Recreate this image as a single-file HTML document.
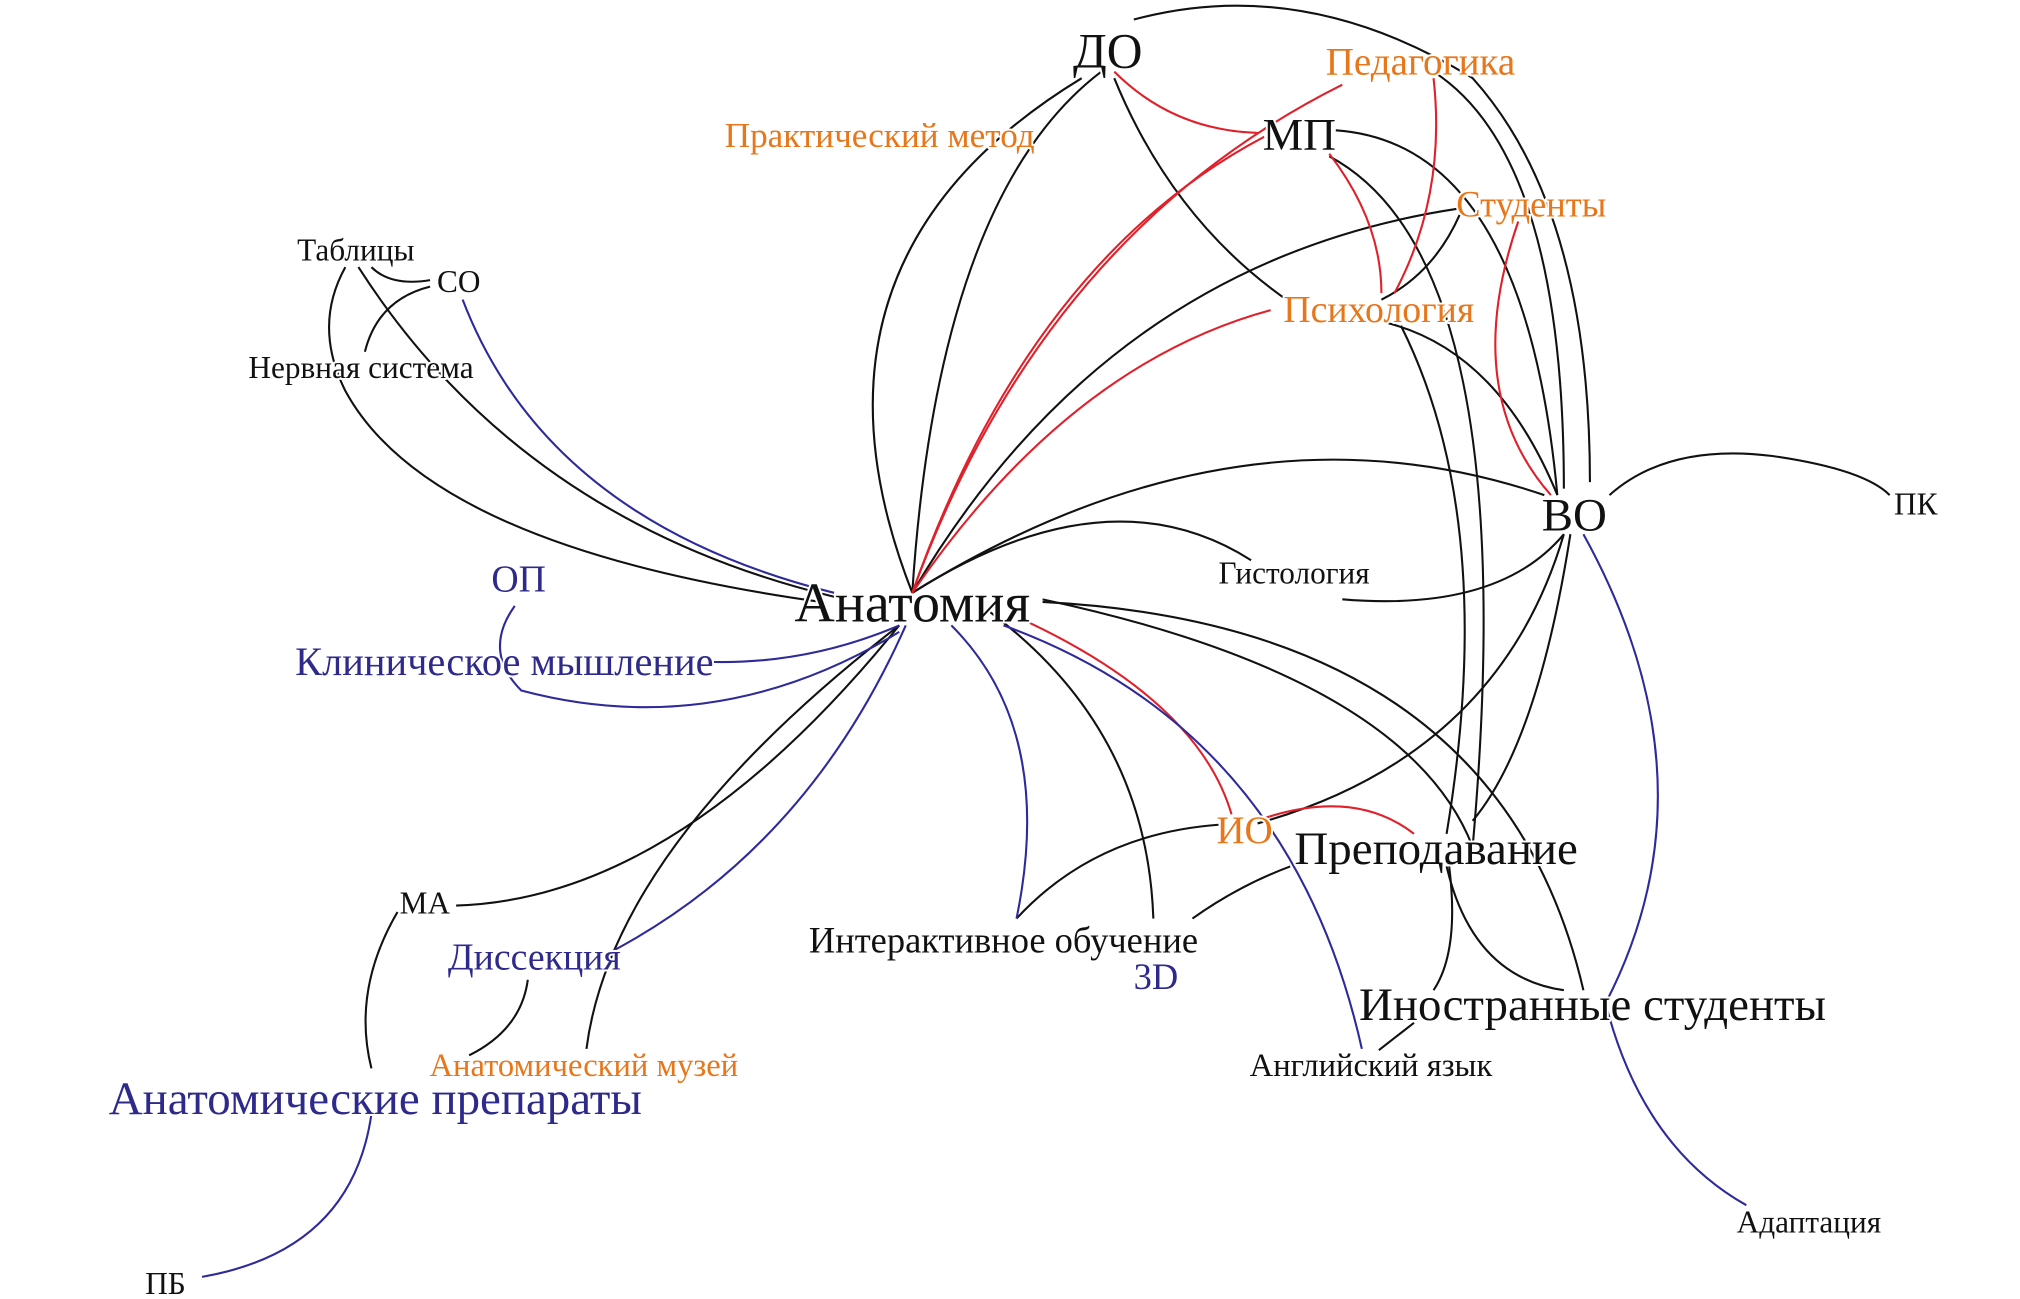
<!DOCTYPE html>
<html><head><meta charset="utf-8"><style>
html,body{margin:0;padding:0;background:#fff;}
svg{display:block;}
text{font-family:"Liberation Serif",serif;paint-order:stroke;stroke:#fff;stroke-width:3px;stroke-linejoin:round;}
.k{fill:#111;} .o{fill:#e8761a;} .b{fill:#2e2a8c;}
path{fill:none;stroke-width:1.6;}
.lk{stroke:#111;} .lr{stroke:#e0202a;} .lb{stroke:#2e2a9a;}
</style></head><body>
<svg width="2020" height="1299" viewBox="0 0 1550 997" preserveAspectRatio="none" xmlns="http://www.w3.org/2000/svg">
<g class="lk">
<path d="M700 455 Q600 200 830 60"/>
<path d="M700 455 Q720 150 845 55"/>
<path d="M700 455 Q850 200 1120 160"/>
<path d="M700 455 Q950 300 1185 380"/>
<path d="M700 455 Q850 360 960 430"/>
<path d="M1030 460 Q1150 470 1200 410"/>
<path d="M640 458 Q400 400 275 205"/>
<path d="M630 462 Q330 420 265 300 Q240 250 265 205"/>
<path d="M285 205 Q300 220 330 215 M330 220 Q290 230 280 270"/>
<path d="M690 480 Q520 690 350 695"/>
<path d="M690 480 Q470 650 450 805"/>
<path d="M760 470 Q880 560 885 705"/>
<path d="M800 460 Q1080 520 1130 650"/>
<path d="M800 462 Q1150 480 1215 760"/>
<path d="M1200 410 Q1150 580 965 632"/>
<path d="M1205 410 Q1180 570 1130 630"/>
<path d="M1235 380 Q1280 340 1360 350 Q1430 360 1450 380"/>
<path d="M870 15 Q1000 -20 1130 60 Q1220 160 1220 370"/>
<path d="M855 60 Q900 170 990 232"/>
<path d="M1025 100 Q1170 110 1195 380"/>
<path d="M1020 120 Q1170 200 1130 650"/>
<path d="M1100 55 Q1200 120 1200 375"/>
<path d="M1120 165 Q1100 210 1060 230"/>
<path d="M1065 248 Q1150 270 1195 380"/>
<path d="M1075 250 Q1150 400 1110 640"/>
<path d="M935 633 Q840 640 780 705"/>
<path d="M990 665 Q950 680 915 705"/>
<path d="M1110 665 Q1130 750 1200 760"/>
<path d="M1112 665 Q1120 730 1100 760"/>
<path d="M1085 785 L1058 806"/>
<path d="M305 700 Q270 760 285 820"/>
<path d="M405 752 Q400 790 360 810"/>
</g>
<g class="lr">
<path d="M700 455 Q800 180 1030 65"/>
<path d="M700 455 Q790 200 970 105"/>
<path d="M700 455 Q820 280 975 238"/>
<path d="M855 55 Q900 100 965 102"/>
<path d="M1020 118 Q1060 170 1060 225"/>
<path d="M1100 60 Q1110 150 1070 225"/>
<path d="M1165 170 Q1120 300 1190 380"/>
<path d="M790 478 Q920 540 945 625"/>
<path d="M970 628 Q1040 605 1085 640"/>
</g>
<g class="lb">
<path d="M640 455 Q420 400 355 230"/>
<path d="M690 480 Q620 510 545 508"/>
<path d="M690 485 Q550 570 400 530 Q370 500 395 465"/>
<path d="M695 480 Q620 650 470 730"/>
<path d="M730 480 Q810 560 780 705"/>
<path d="M770 480 Q990 560 1045 805"/>
<path d="M1215 410 Q1320 600 1232 770 Q1260 880 1340 925"/>
<path d="M285 855 Q270 960 155 980"/>
</g>
<g text-anchor="middle">
<text x="850" y="52" font-size="38" class="k">ДО</text>
<text x="1090" y="57" font-size="30" class="o">Педагогика</text>
<text x="675" y="113" font-size="27" class="o">Практический метод</text>
<text x="997" y="115" font-size="35" class="k">МП</text>
<text x="1175" y="166" font-size="28" class="o">Студенты</text>
<text x="273" y="200" font-size="24" class="k">Таблицы</text>
<text x="352" y="224" font-size="24" class="k">СО</text>
<text x="1058" y="247" font-size="29" class="o">Психология</text>
<text x="277" y="290" font-size="24" class="k">Нервная система</text>
<text x="1208" y="407" font-size="36" class="k">ВО</text>
<text x="1470" y="395" font-size="24" class="k">ПК</text>
<text x="993" y="448" font-size="24" class="k">Гистология</text>
<text x="398" y="454" font-size="29" class="b">ОП</text>
<text x="700" y="477" font-size="43" class="k">Анатомия</text>
<text x="387" y="518" font-size="31" class="b">Клиническое мышление</text>
<text x="955" y="647" font-size="30" class="o">ИО</text>
<text x="1102" y="663" font-size="36" class="k">Преподавание</text>
<text x="326" y="701" font-size="24" class="k">МА</text>
<text x="770" y="731" font-size="28" class="k">Интерактивное обучение</text>
<text x="410" y="744" font-size="29" class="b">Диссекция</text>
<text x="887" y="759" font-size="28" class="b">3D</text>
<text x="1222" y="783" font-size="36" class="k">Иностранные студенты</text>
<text x="1052" y="826" font-size="25" class="k">Английский язык</text>
<text x="448" y="826" font-size="25" class="o">Анатомический музей</text>
<text x="288" y="855" font-size="36" class="b">Анатомические препараты</text>
<text x="1388" y="946" font-size="24" class="k">Адаптация</text>
<text x="127" y="993" font-size="24" class="k">ПБ</text>
</g>
</svg>
</body></html>
